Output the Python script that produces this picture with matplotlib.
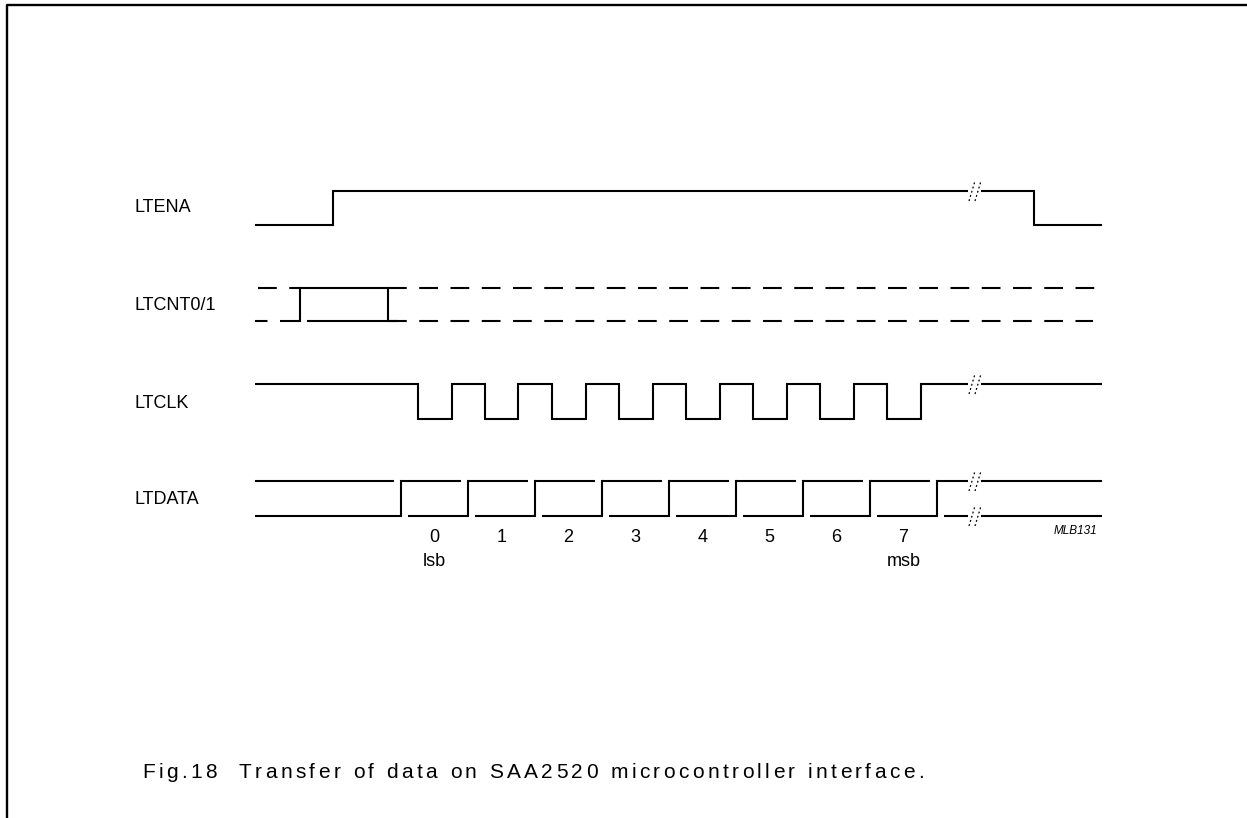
#!/usr/bin/env python3
import numpy as np
import matplotlib
matplotlib.use('Agg')
import matplotlib.pyplot as plt

plt.rcParams['font.family'] = ['Liberation Sans', 'DejaVu Sans']

# timing diagram, units are pixels of the original drawing
signals = ['LTENA', 'LTCNT0/1', 'LTCLK', 'LTDATA']
label_y = [207, 305, 403, 499]
t_start, t_end = 255, 1102
t_break = 975

# LTENA: high / low levels and edges
ena_hi, ena_lo = 191, 225
ena_rise, ena_fall = 333, 1034

# LTCNT0/1
cnt_hi, cnt_lo = 288, 321
cnt_rise, cnt_fall = 300, 388
cnt_lo_end = 1093

# LTCLK
clk_hi, clk_lo = 384, 419
clk_fall = [418, 485, 552, 619, 686, 753, 820, 887]
clk_rise = [452, 518, 586, 653, 720, 787, 854, 921]

# LTDATA bus transitions
dat_hi, dat_lo = 481, 516
dat_edges = [401, 468, 535, 602, 669, 736, 803, 870, 937]
bit_labels = ['0', '1', '2', '3', '4', '5', '6', '7']
bit_notes = {0: 'lsb', 7: 'msb'}

caption = 'Fig.18  Transfer of data on SAA2520 microcontroller interface.'

fig = plt.figure(figsize=(12.47, 8.18), dpi=100)
ax = fig.add_axes([0, 0, 1, 1])
ax.set_xlim(0, 1247)
ax.set_ylim(818, 0)
ax.axis('off')

fs = 13
lw = 1.5
k = dict(color='black', lw=lw, solid_capstyle='butt', solid_joinstyle='miter')

# frame (top and left only)
ax.plot([7, 7, 1247], [818, 5, 5], color='black', lw=1.7)

for name, y in zip(signals, label_y):
    ax.text(135, y, name, fontsize=fs, va='center', ha='left')

# LTENA
ax.plot([t_start, ena_rise, ena_rise, ena_fall, ena_fall, t_end],
        [ena_lo, ena_lo, ena_hi, ena_hi, ena_lo, ena_lo], **k)

# LTCNT0/1
dash = dict(color='black', lw=lw, linestyle=(0, (9, 6)), dash_capstyle='butt')
ax.plot([t_start + 3, cnt_rise], [cnt_hi, cnt_hi], **dash)
ax.plot([cnt_fall, t_end], [cnt_hi, cnt_hi], **dash)
ax.plot([t_start, cnt_rise], [cnt_lo, cnt_lo], color='black', lw=lw,
        linestyle=(3, (9, 6)), dash_capstyle='butt')
ax.plot([cnt_fall, cnt_lo_end], [cnt_lo, cnt_lo], **dash)
ax.plot([cnt_rise - 2, cnt_rise, cnt_rise, cnt_fall, cnt_fall],
        [cnt_lo, cnt_lo, cnt_hi, cnt_hi, cnt_lo], **k)
ax.plot([cnt_rise + 7, cnt_fall + 10], [cnt_lo, cnt_lo], **k)

# LTCLK
cx = [t_start]
cy = [clk_hi]
for f, r in zip(clk_fall, clk_rise):
    cx += [f, f, r, r]
    cy += [clk_hi, clk_lo, clk_lo, clk_hi]
cx.append(t_end)
cy.append(clk_hi)
ax.plot(cx, cy, **k)

# LTDATA
gap = 7
prev_hi, prev_lo = t_start, t_start
for e in dat_edges:
    ax.plot([prev_hi, e - gap], [dat_hi, dat_hi], **k)
    ax.plot([prev_lo, e, e, e + 1], [dat_lo, dat_lo, dat_hi, dat_hi], **k)
    prev_hi, prev_lo = e, e + gap
ax.plot([prev_hi, t_end], [dat_hi, dat_hi], **k)
ax.plot([prev_lo, t_end], [dat_lo, dat_lo], **k)

for i, b in enumerate(bit_labels):
    xc = (dat_edges[i] + dat_edges[i + 1]) / 2
    ax.text(xc, 537, b, fontsize=fs, ha='center', va='center')
    if i in bit_notes:
        ax.text(xc, 562, bit_notes[i], fontsize=fs, ha='center', va='center')

ax.text(1097, 531, 'MLB131', fontsize=8.5, style='italic', ha='right', va='center')

# break marks
for y in [ena_hi, clk_hi, dat_hi, dat_lo]:
    ax.plot([t_break - 7, t_break + 6], [y, y], color='white', lw=4,
            solid_capstyle='butt', zorder=3)
    for dx in (-3, 3):
        ax.plot([t_break + dx - 3, t_break + dx + 3], [y + 10, y - 10],
                color='black', lw=0.9, linestyle=(0, (1.5, 2)), zorder=4)

# caption, spread out to the width of the original
cfs = 15
renderer = fig.canvas.get_renderer()


def text_w(s):
    t = ax.text(0, 0, s, fontsize=cfs)
    w = t.get_window_extent(renderer).width
    t.remove()
    return w


base = text_w('||')
widths = [text_w('|' + ch + '|') - base for ch in caption]
x0, x1 = 142, 924
extra = (x1 - x0 - sum(widths)) / (len(caption) - 1)
x = x0
for ch, w in zip(caption, widths):
    if ch != ' ':
        ax.text(x, 773, ch, fontsize=cfs, ha='left', va='center')
    x += w + extra

fig.savefig('out.png', dpi=100)
